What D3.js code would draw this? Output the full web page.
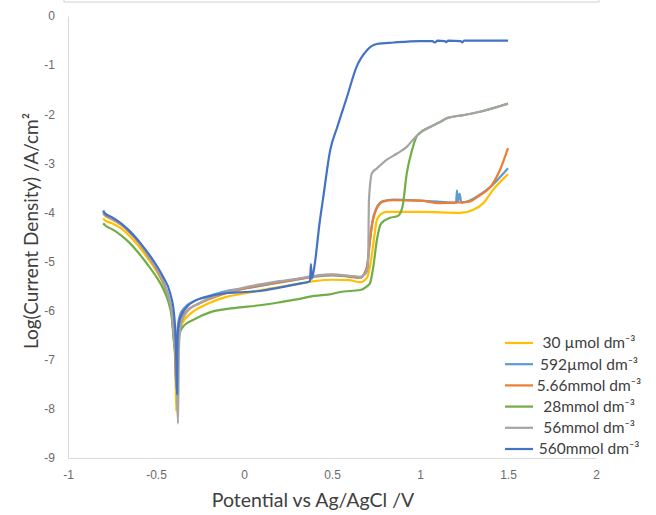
<!DOCTYPE html>
<html>
<head>
<meta charset="utf-8">
<script src="https://cdn.jsdelivr.net/npm/d3@7"></script>
<style>
  body { margin: 0; background: #fff; }
  svg { font-family: Lato, "Open Sans", sans-serif; }
</style>
</head>
<body>
<svg width="656" height="515"></svg>
<script>
// potential (V) vs log current density
const s30uM = [
  [-0.80, -4.12], [-0.79, -4.16], [-0.75, -4.22], [-0.70, -4.32], [-0.65, -4.48],
  [-0.60, -4.68], [-0.55, -4.92], [-0.50, -5.18], [-0.46, -5.45], [-0.43, -5.74],
  [-0.41, -6.10], [-0.40, -6.55], [-0.39, -7.10], [-0.385, -8.05], [-0.38, -7.00],
  [-0.37, -6.50], [-0.35, -6.25], [-0.30, -6.05], [-0.20, -5.85], [-0.10, -5.72],
  [0.00, -5.65], [0.10, -5.58], [0.20, -5.52], [0.30, -5.46], [0.40, -5.40],
  [0.50, -5.37], [0.60, -5.38], [0.66, -5.42], [0.70, -5.32], [0.72, -5.02],
  [0.74, -4.50], [0.755, -4.15], [0.78, -4.03], [0.81, -3.99], [1.00, -3.99],
  [1.23, -4.01], [1.30, -3.95], [1.36, -3.81], [1.415, -3.54], [1.50, -3.22]
];
const s592uM = [
  [-0.80, -3.98], [-0.79, -4.02], [-0.75, -4.10], [-0.70, -4.22], [-0.65, -4.38],
  [-0.60, -4.58], [-0.55, -4.84], [-0.50, -5.12], [-0.46, -5.40], [-0.43, -5.70],
  [-0.41, -6.05], [-0.40, -6.50], [-0.39, -7.00], [-0.385, -7.60], [-0.378, -6.40],
  [-0.365, -6.10], [-0.34, -5.95], [-0.28, -5.80], [-0.20, -5.70], [-0.10, -5.60],
  [0.00, -5.55], [0.10, -5.49], [0.20, -5.43], [0.30, -5.37], [0.40, -5.31],
  [0.50, -5.28], [0.60, -5.31], [0.66, -5.33], [0.69, -5.20], [0.70, -5.08],
  [0.715, -4.58], [0.73, -4.18], [0.75, -3.93], [0.79, -3.77], [0.85, -3.74],
  [1.00, -3.76], [1.10, -3.78], [1.205, -3.80], [1.21, -3.55], [1.215, -3.78],
  [1.225, -3.62], [1.235, -3.80], [1.28, -3.76], [1.34, -3.64], [1.40, -3.48],
  [1.455, -3.28], [1.50, -3.10]
];
const s566mM = [
  [-0.80, -4.02], [-0.79, -4.06], [-0.75, -4.14], [-0.70, -4.25], [-0.65, -4.41],
  [-0.60, -4.61], [-0.55, -4.86], [-0.50, -5.14], [-0.46, -5.42], [-0.43, -5.72],
  [-0.41, -6.06], [-0.40, -6.50], [-0.39, -6.95], [-0.385, -7.50], [-0.375, -6.50],
  [-0.36, -6.20], [-0.33, -6.02], [-0.25, -5.85], [-0.15, -5.70], [0.00, -5.55],
  [0.10, -5.48], [0.20, -5.42], [0.30, -5.36], [0.40, -5.30], [0.50, -5.27],
  [0.60, -5.30], [0.66, -5.33], [0.69, -5.20], [0.70, -5.10], [0.715, -4.60],
  [0.73, -4.20], [0.75, -3.95], [0.79, -3.78], [0.85, -3.75], [1.00, -3.76],
  [1.11, -3.81], [1.20, -3.80], [1.28, -3.78], [1.34, -3.65], [1.40, -3.48],
  [1.455, -3.13], [1.50, -2.69]
];
const s28mM = [
  [-0.80, -4.22], [-0.79, -4.26], [-0.75, -4.34], [-0.70, -4.46], [-0.65, -4.62],
  [-0.60, -4.82], [-0.55, -5.05], [-0.50, -5.30], [-0.46, -5.55], [-0.43, -5.82],
  [-0.41, -6.15], [-0.40, -6.55], [-0.385, -7.00], [-0.38, -7.30], [-0.375, -6.80],
  [-0.365, -6.45], [-0.34, -6.30], [-0.29, -6.19], [-0.19, -6.03], [-0.06, -5.95],
  [0.09, -5.89], [0.20, -5.83], [0.30, -5.77], [0.40, -5.70], [0.50, -5.66],
  [0.545, -5.62], [0.66, -5.58], [0.70, -5.50], [0.716, -5.44], [0.735, -5.10],
  [0.755, -4.56], [0.78, -4.22], [0.83, -4.11], [0.875, -4.07], [0.90, -3.89],
  [0.925, -3.20], [0.955, -2.73], [0.98, -2.46], [1.00, -2.38], [1.057, -2.26],
  [1.114, -2.16], [1.153, -2.08], [1.244, -2.02], [1.34, -1.95], [1.44, -1.85],
  [1.50, -1.78]
];
const s56mM = [
  [-0.80, -4.00], [-0.79, -4.04], [-0.75, -4.12], [-0.70, -4.24], [-0.65, -4.40],
  [-0.60, -4.60], [-0.55, -4.85], [-0.50, -5.13], [-0.46, -5.41], [-0.43, -5.71],
  [-0.41, -6.05], [-0.40, -6.50], [-0.385, -7.10], [-0.375, -8.30], [-0.37, -6.80],
  [-0.36, -6.30], [-0.33, -6.05], [-0.25, -5.84], [-0.15, -5.68], [0.00, -5.53],
  [0.10, -5.46], [0.20, -5.40], [0.30, -5.35], [0.40, -5.29], [0.50, -5.26],
  [0.60, -5.29], [0.66, -5.31], [0.69, -5.25], [0.705, -5.10], [0.71, -3.75],
  [0.727, -3.20], [0.756, -3.10], [0.81, -2.93], [0.87, -2.80], [0.926, -2.66],
  [0.96, -2.52], [1.00, -2.38], [1.057, -2.26], [1.114, -2.16], [1.153, -2.08],
  [1.244, -2.02], [1.34, -1.95], [1.44, -1.85], [1.50, -1.79]
];
const s560mM = [
  [-0.80, -3.96], [-0.79, -4.02], [-0.75, -4.10], [-0.70, -4.22], [-0.65, -4.38],
  [-0.59, -4.62], [-0.517, -4.97], [-0.46, -5.31], [-0.42, -5.64], [-0.398, -6.05],
  [-0.386, -6.80], [-0.38, -7.70], [-0.378, -6.60], [-0.37, -6.25], [-0.35, -6.05],
  [-0.324, -5.92], [-0.28, -5.80], [-0.233, -5.74], [-0.10, -5.64], [0.00, -5.62],
  [0.09, -5.60], [0.20, -5.53], [0.30, -5.46], [0.375, -5.40], [0.38, -5.05],
  [0.385, -5.35], [0.40, -5.10], [0.43, -4.20], [0.45, -3.70], [0.49, -2.73],
  [0.53, -2.26], [0.585, -1.65], [0.64, -1.03], [0.70, -0.69], [0.755, -0.57],
  [0.85, -0.54], [1.00, -0.51], [1.07, -0.51], [1.085, -0.54], [1.10, -0.50],
  [1.14, -0.51], [1.15, -0.53], [1.16, -0.50], [1.23, -0.51], [1.24, -0.54],
  [1.25, -0.50], [1.50, -0.50]
];

const seriesNames = ['30 \u00b5mol dm\u207b\u00b3', '592\u00b5mol dm\u207b\u00b3', '5.66mmol dm\u207b\u00b3',
  '28mmol dm\u207b\u00b3', '56mmol dm\u207b\u00b3', '560mmol dm\u207b\u00b3'];
const seriesData = [s30uM, s592uM, s566mM, s28mM, s56mM, s560mM];
const seriesColors = ['#FFC000', '#5B9BD5', '#ED7D31', '#70AD47', '#A5A5A5', '#4472C4'];

const xTicks = [-1, -0.5, 0, 0.5, 1, 1.5, 2];
const yTicks = [0, -1, -2, -3, -4, -5, -6, -7, -8, -9];

const svg = d3.select('svg');

const x = d3.scaleLinear().domain([-1, 2]).range([68, 596]);
const y = d3.scaleLinear().domain([-9, 0]).range([458, 16]);

// cut-off title box at the very top
svg.append('rect')
  .attr('x', 64)
  .attr('y', -20)
  .attr('width', 535)
  .attr('height', 22)
  .attr('fill', 'none')
  .attr('stroke', '#d0d0d0');

const xAxis = d3.axisBottom(x)
  .tickValues(xTicks)
  .tickSize(0)
  .tickPadding(12)
  .tickFormat(d => d);

const yAxis = d3.axisLeft(y)
  .tickValues(yTicks)
  .tickSize(0)
  .tickPadding(13)
  .tickFormat(d => d);

svg.append('g')
  .attr('transform', `translate(0, ${y(-9)})`)
  .call(xAxis)
  .call(g => g.select('.domain').attr('stroke', '#d9d9d9'))
  .call(g => g.selectAll('text').attr('fill', '#6a6a6a').style('font-size', '12px'));

svg.append('g')
  .attr('transform', `translate(${x(-1)}, 0)`)
  .call(yAxis)
  .call(g => g.select('.domain').attr('stroke', '#d9d9d9'))
  .call(g => g.selectAll('text').attr('fill', '#6a6a6a').style('font-size', '12px'));

const line = d3.line()
  .curve(d3.curveMonotoneX)
  .x(d => x(d[0]))
  .y(d => y(d[1]));

svg.append('g')
  .selectAll('path')
  .data(seriesData)
  .enter()
  .append('path')
  .attr('d', line)
  .attr('fill', 'none')
  .attr('stroke', (d, i) => seriesColors[i])
  .attr('stroke-width', 2.2)
  .attr('stroke-linejoin', 'round');

// axis titles
svg.append('text')
  .attr('x', 313)
  .attr('y', 507)
  .attr('text-anchor', 'middle')
  .attr('fill', '#404040')
  .style('font-size', '19.5px')
  .text('Potential vs Ag/AgCl /V');

svg.append('text')
  .attr('transform', 'translate(38, 231) rotate(-90)')
  .attr('text-anchor', 'middle')
  .attr('fill', '#404040')
  .style('font-size', '19px')
  .text('Log(Current Density) /A/cm\u00b2');

// legend
const legend = svg.append('g').attr('id', 'legend');

const rows = legend.selectAll('g')
  .data(seriesNames)
  .enter()
  .append('g')
  .attr('transform', (d, i) => `translate(0, ${343 + i * 21.2})`);

rows.append('line')
  .attr('x1', 505)
  .attr('x2', 533)
  .attr('stroke', (d, i) => seriesColors[i])
  .attr('stroke-width', 2.2);

rows.append('text')
  .attr('x', 589)
  .attr('dy', '0.35em')
  .attr('text-anchor', 'middle')
  .attr('fill', '#404040')
  .style('font-size', '15.5px')
  .text(d => d);
</script>
</body>
</html>
